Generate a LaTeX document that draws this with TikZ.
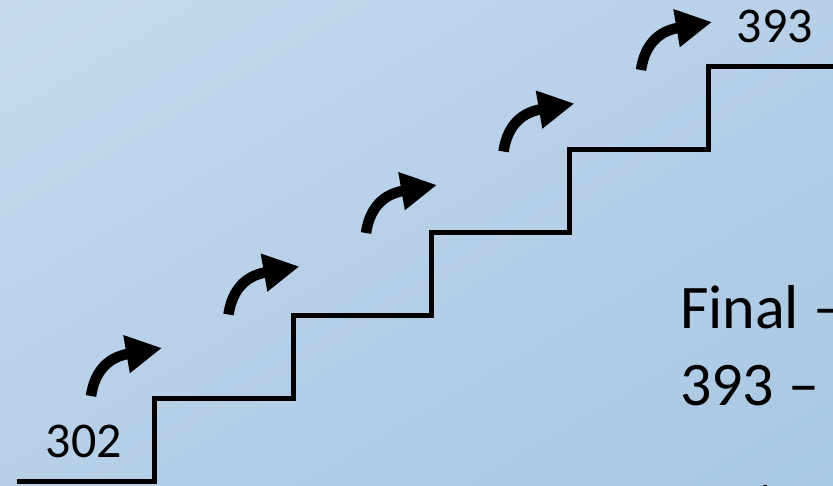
\documentclass[tikz,border=0pt]{standalone}
\usepackage{fontspec}
\setmainfont{Carlito}
\usetikzlibrary{arrows.meta,shadings}
\definecolor{bgA}{HTML}{C5DAEE}
\definecolor{bgM}{HTML}{B7D0E8}
\definecolor{bgB}{HTML}{A9C6E2}
\begin{document}
\begin{tikzpicture}[x=1pt,y=-1pt,
  stair/.style={line width=5pt, line join=miter, line cap=butt},
  uparrow/.style={line width=10.5pt, -{Triangle[length=36pt,width=36pt]}},
  lbl/.style={inner sep=0pt, outer sep=0pt},
  small/.style={font=\fontsize{50}{60}\selectfont},
  big/.style={font=\fontsize{62}{74}\selectfont}]
\useasboundingbox (0pt,0pt) rectangle (833pt,-485pt);
\clip (0pt,0pt) rectangle (833pt,-485pt);
\shade[upper left=bgA, upper right=bgM, lower left=bgM, lower right=bgB]
  (0pt,0pt) rectangle (833pt,-485pt);
% staircase
\coordinate (p0) at (17,481);
\coordinate (p1) at (154,481);
\coordinate (p2) at (154,398);
\coordinate (p3) at (293,398);
\coordinate (p4) at (293,315);
\coordinate (p5) at (431,315);
\coordinate (p6) at (431,232);
\coordinate (p7) at (569,232);
\coordinate (p8) at (569,149);
\coordinate (p9) at (708,149);
\coordinate (p10) at (708,66);
\coordinate (p11) at (840,66);
\draw[stair] (p0) -- (p1) -- (p2) -- (p3) -- (p4) -- (p5) -- (p6) -- (p7) -- (p8) -- (p9) -- (p10) -- (p11);
% arrows
\foreach \i in {0,...,4}{
  \begin{scope}[shift={(137.5*\i,-81.5*\i)}]
    \coordinate (t\i) at (91,396);
    \coordinate (h\i) at (162,348);
    \draw[uparrow] (t\i) .. controls (94,376) and (104,358) .. (h\i);
  \end{scope}
}
% labels
\node[lbl, small, anchor=base] (start) at (84,457) {302};
\node[lbl, small, anchor=base] (goal) at (775,42) {393};
\node[lbl, big, anchor=base west] (final) at (680,328) {Final –};
\node[lbl, big, anchor=base west] (score) at (680,405) {393 –};
\node[lbl, big, anchor=base west] (frag) at (743,528) {/};
\end{tikzpicture}
\end{document}
